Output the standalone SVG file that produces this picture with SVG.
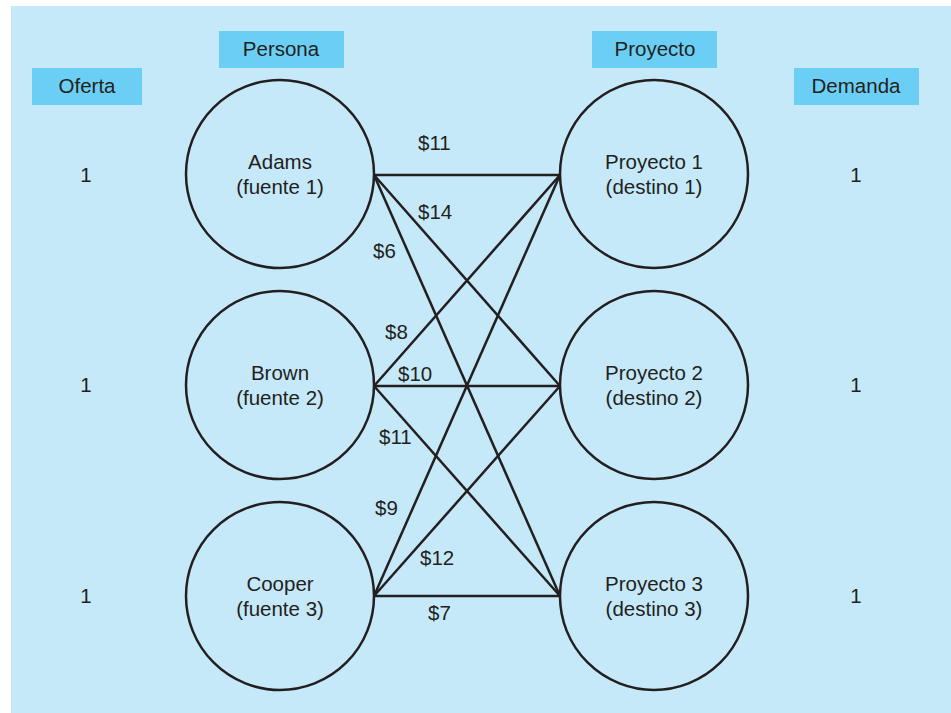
<svg xmlns="http://www.w3.org/2000/svg" width="951" height="713" viewBox="0 0 951 713">
<style>
text{font-family:"Liberation Sans",Arial,sans-serif;font-size:20.5px;fill:#231f20;text-anchor:middle}
.hdr{fill:#6bcff5}
.node{fill:none;stroke:#231f20;stroke-width:2.5}
.edge{stroke:#231f20;stroke-width:2.5;fill:none}
.cost{text-anchor:start}
</style>
<rect x="0" y="0" width="951" height="713" fill="#ffffff"/>
<rect x="11" y="6" width="940" height="707" fill="#c6e9f9"/>
<g id="headers">
<rect class="hdr" x="32" y="68" width="110" height="37"/><text x="87" y="93">Oferta</text>
<rect class="hdr" x="219" y="31" width="125" height="37"/><text x="281" y="56">Persona</text>
<rect class="hdr" x="592" y="31" width="125" height="37"/><text x="655" y="56">Proyecto</text>
<rect class="hdr" x="794" y="68" width="125" height="37"/><text x="856" y="93">Demanda</text>
</g>
<g id="connectors">
<line class="edge" x1="374" y1="175" x2="560" y2="175"/>
<line class="edge" x1="374" y1="175" x2="560" y2="386"/>
<line class="edge" x1="374" y1="175" x2="560" y2="596"/>
<line class="edge" x1="374" y1="386" x2="560" y2="175"/>
<line class="edge" x1="374" y1="386" x2="560" y2="386"/>
<line class="edge" x1="374" y1="386" x2="560" y2="596"/>
<line class="edge" x1="374" y1="596" x2="560" y2="175"/>
<line class="edge" x1="374" y1="596" x2="560" y2="386"/>
<line class="edge" x1="374" y1="596" x2="560" y2="596"/>
</g>
<g id="costs">
<text class="cost" x="418" y="150">$11</text>
<text class="cost" x="418" y="219">$14</text>
<text class="cost" x="373" y="258">$6</text>
<text class="cost" x="385" y="339">$8</text>
<text class="cost" x="398" y="381">$10</text>
<text class="cost" x="379" y="444">$11</text>
<text class="cost" x="375" y="515">$9</text>
<text class="cost" x="420" y="565">$12</text>
<text class="cost" x="428" y="620">$7</text>
</g>
<g id="adams"><circle class="node" cx="280" cy="174" r="94"/><text x="280" y="169">Adams</text><text x="280" y="194">(fuente 1)</text></g>
<g id="brown"><circle class="node" cx="280" cy="385" r="94"/><text x="280" y="380">Brown</text><text x="280" y="405">(fuente 2)</text></g>
<g id="cooper"><circle class="node" cx="280" cy="596" r="94"/><text x="280" y="591">Cooper</text><text x="280" y="616">(fuente 3)</text></g>
<g id="proyecto1"><circle class="node" cx="654" cy="174" r="94"/><text x="654" y="169">Proyecto 1</text><text x="654" y="194">(destino 1)</text></g>
<g id="proyecto2"><circle class="node" cx="654" cy="385" r="94"/><text x="654" y="380">Proyecto 2</text><text x="654" y="405">(destino 2)</text></g>
<g id="proyecto3"><circle class="node" cx="654" cy="596" r="94"/><text x="654" y="591">Proyecto 3</text><text x="654" y="616">(destino 3)</text></g>
<g id="supply">
<text x="86" y="182">1</text><text x="86" y="392">1</text><text x="86" y="603">1</text>
</g>
<g id="demand">
<text x="856" y="182">1</text><text x="856" y="392">1</text><text x="856" y="603">1</text>
</g>
</svg>
